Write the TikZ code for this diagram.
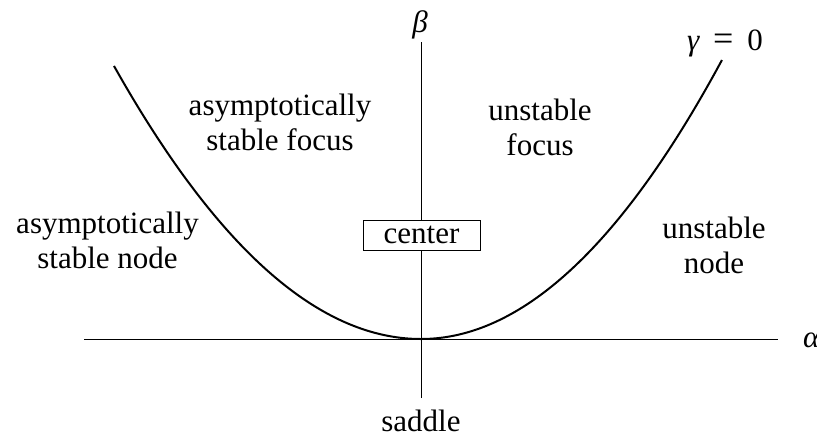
\documentclass[tikz,border=0pt]{standalone}
\usepackage{fontspec}
\setmainfont{Liberation Serif}
\begin{document}
\begin{tikzpicture}[x=1pt,y=-1pt,
  lbl/.style={align=center,inner sep=0pt,font=\fontsize{31}{35}\selectfont},
  axis/.style={line width=1pt},
  curve/.style={line width=2pt}]
\useasboundingbox (0,0) rectangle (817,437);
% axes
\coordinate (xl) at (84,339);
\coordinate (xr) at (778,339);
\coordinate (yb) at (421,398);
\coordinate (yt) at (421,42);
\draw[axis] (xl) -- (xr);
\draw[axis] (yb) -- (yt);
% parabola gamma = 0
\draw[curve] plot[smooth,domain=-3.07:0,samples=60] ({421+100*\x},{339-28.97*\x*\x})
  -- plot[smooth,domain=0:3.01,samples=60] ({421+100*\x},{339-30.8*\x*\x});
% labels
\node[lbl,anchor=west] (alpha) at (803,340) {\itshape α};
\node[lbl] (beta) at (420,25) {\itshape β};
\node[lbl,anchor=base] (gamma) at (725,50) {{\itshape γ}\hspace{0.45em}{\fontsize{36}{36}\selectfont =}\hspace{0.45em}0};
\node[lbl,draw,fill=white,line width=0.8pt,minimum width=117pt,minimum height=30pt] (center) at (421.5,235) {center};
\node[lbl,anchor=base] (saddle) at (421,431) {saddle};
\node[lbl] (asn) at (107.5,240) {asymptotically\\stable node};
\node[lbl] (asf) at (280,122) {asymptotically\\stable focus};
\node[lbl] (uf) at (540,127) {unstable\\focus};
\node[lbl] (un) at (714,245) {unstable\\node};
\end{tikzpicture}
\end{document}
